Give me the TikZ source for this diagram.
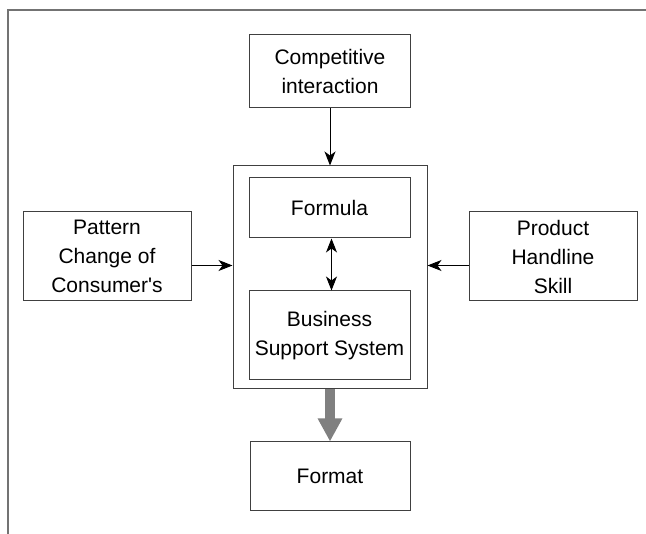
\documentclass[tikz,border=0pt]{standalone}
\usepackage{fontspec}
\setmainfont{Liberation Sans}
\usetikzlibrary{arrows.meta}
\tikzset{
	box/.style={draw=black!75, line width=1pt, inner sep=0pt, align=center,
		font=\fontsize{21}{29}\selectfont},
	tipb/.tip={Stealth[length=14pt, width=11pt, inset=4pt]},
	flow/.style={line width=1pt, -tipb},
	bothflow/.style={line width=1pt, tipb-tipb},
}

\begin{document}
\begin{tikzpicture}[x=1pt, y=1pt]
		%%%%% START %%%%%
		\useasboundingbox (0, 0) rectangle (646, -534);
		
		\draw[line width=2pt, color=black!55] (646, -10) -- (8, -10) -- (8, -534);
		
		\node[box, minimum width=161pt, minimum height=73pt] (comp) at (330, -71.5) {Competitive\\interaction};
		
		\node[box, minimum width=194pt, minimum height=223pt] (core) at (330, -277.5) {};
		\node[box, minimum width=161pt, minimum height=60pt] (formula) at (329.5, -208) {Formula};
		\node[box, minimum width=161pt, minimum height=89pt] (bss) at (329.5, -335.5) {Business\\Support System};
		
		\node[box, minimum width=168pt, minimum height=89pt] (pattern) at (107, -256.5) {Pattern\\Change of\\Consumer\textquotesingle s};
		\node[box, minimum width=168pt, minimum height=89pt] (skill) at (553, -256.5) {Product\\Handline\\Skill};
		
		\node[box, minimum width=160pt, minimum height=69pt] (format) at (330, -476.5) {Format};
		
		\draw[flow] (comp.south) -- (core.north);
		\draw[flow] ([yshift=-9pt]pattern.east) -- ([yshift=-9pt]pattern.east -| core.west);
		\draw[flow] ([yshift=-9pt]skill.west) -- ([yshift=-9pt]skill.west -| core.east);
		\draw[bothflow] ([xshift=2pt]formula.south) -- ([xshift=2pt]bss.north);
		
		\draw[line width=10pt, color=black!50, -{Triangle[length=23pt, width=23pt]}] (core.south) -- (format.north);
		
		%%%%% END %%%%%
	\end{tikzpicture}
\end{document}
